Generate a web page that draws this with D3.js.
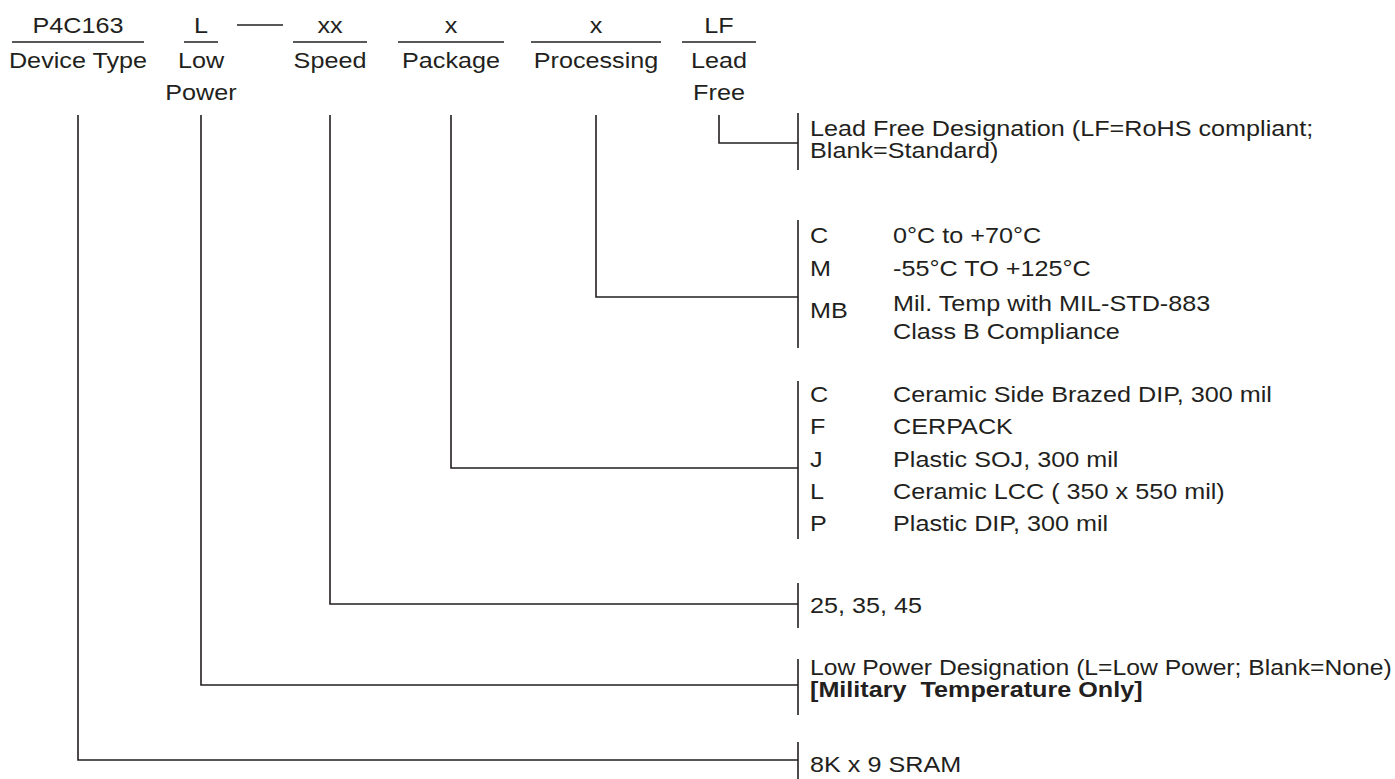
<!DOCTYPE html>
<html lang="en">
<head>
<meta charset="UTF-8">
<script src="https://cdn.jsdelivr.net/npm/d3@7"></script>
<title>P4C163 Ordering Information</title>
<style>
    body { margin: 0; background: white; }
    svg text {
        font-family: "Liberation Sans", Arial, sans-serif;
        font-size: 22.5px;
        fill: #231f20;
        white-space: pre;
    }
    .rule { stroke: #231f20; stroke-width: 1.6px; fill: none; }
</style>
</head>
<body>
<div id="chart"></div>
<script>
    // part number fields
    const codes = ["P4C163", "L", "xx", "x", "x", "LF"];
    const fieldLabels = [["Device Type"], ["Low", "Power"], ["Speed"], ["Package"], ["Processing"], ["Lead", "Free"]];

    // option text per field
    const leadFreeText = ["Lead Free Designation (LF=RoHS compliant;", "Blank=Standard)"];
    const processingCodes = ["C", "M", "MB"];
    const processingText = [["0°C to +70°C"], ["-55°C TO +125°C"], ["Mil. Temp with MIL-STD-883", "Class B Compliance"]];
    const packageCodes = ["C", "F", "J", "L", "P"];
    const packageText = ["Ceramic Side Brazed DIP, 300 mil", "CERPACK", "Plastic SOJ, 300 mil", "Ceramic LCC ( 350 x 550 mil)", "Plastic DIP, 300 mil"];
    const speedText = ["25, 35, 45"];
    const lowPowerText = ["Low Power Designation (L=Low Power; Blank=None)", "[Military  Temperature Only]"];
    const deviceText = ["8K x 9 SRAM"];

    // layout
    const W = 1395, H = 779;
    const fieldX = [78, 201, 330, 451, 596, 719];
    const underlineHalf = [66, 17, 37, 53, 65, 37];
    const sx = 1.12;
    const bracketX = 798, codeX = 810, descX = 893, dropTop = 115;

    const xField = d3.scaleOrdinal().domain(d3.range(codes.length)).range(fieldX);

    const svg = d3.select("#chart").append("svg")
        .attr("width", W)
        .attr("height", H);

    const addText = (x, y, str, anchor = "start", bold = false) => {
        const t = svg.append("text")
            .attr("text-anchor", anchor)
            .style("font-weight", bold ? "bold" : "normal")
            .text(str);
        // squeeze a bit if the line would run past the right edge
        let k = sx;
        const w = t.node().getComputedTextLength();
        if (anchor === "start" && x + w * k > W - 3) k = (W - 3 - x) / w;
        t.attr("transform", `translate(${x},${y}) scale(${k},1)`);
    };

    // header
    codes.forEach((c, i) => {
        addText(xField(i), 33, c, "middle");
        svg.append("line").attr("class", "rule")
            .attr("x1", xField(i) - underlineHalf[i]).attr("x2", xField(i) + underlineHalf[i])
            .attr("y1", 42).attr("y2", 42);
        fieldLabels[i].forEach((l, j) => addText(xField(i), 68 + j * 32, l, "middle"));
    });
    // dash between L and xx
    svg.append("line").attr("class", "rule")
        .attr("x1", 237).attr("x2", 283).attr("y1", 25).attr("y2", 25);

    // brackets: field index, top, bottom, join y, rows
    const blocks = [
        { field: 5, top: 113, bottom: 170, join: 143,
          rows: leadFreeText.map((t, i) => ({ lines: [t], y: [136 + i * 22] })) },
        { field: 4, top: 220, bottom: 348, join: 297,
          rows: processingCodes.map((c, i) => ({ code: c, codeY: [243, 276, 318][i], lines: processingText[i], y: [[243], [276], [311, 339]][i] })) },
        { field: 3, top: 381, bottom: 539, join: 468,
          rows: packageCodes.map((c, i) => ({ code: c, codeY: 402 + i * 32.3, lines: [packageText[i]], y: [402 + i * 32.3] })) },
        { field: 2, top: 583, bottom: 628, join: 604,
          rows: [{ lines: speedText, y: [613] }] },
        { field: 1, top: 659, bottom: 715, join: 685,
          rows: [{ lines: lowPowerText, y: [675, 697], bold: [false, true] }] },
        { field: 0, top: 742, bottom: 779, join: 760,
          rows: [{ lines: deviceText, y: [772] }] }
    ];

    blocks.forEach(b => {
        const x = xField(b.field);
        svg.append("path").attr("class", "rule")
            .attr("d", d3.line()([[x, dropTop], [x, b.join], [bracketX, b.join]]));
        svg.append("line").attr("class", "rule")
            .attr("x1", bracketX).attr("x2", bracketX)
            .attr("y1", b.top).attr("y2", b.bottom);
        b.rows.forEach(r => {
            if (r.code) {
                addText(codeX, r.codeY, r.code);
                r.lines.forEach((l, j) => addText(descX, r.y[j], l));
            } else {
                r.lines.forEach((l, j) => addText(codeX, r.y[j], l, "start", r.bold ? r.bold[j] : false));
            }
        });
    });
</script>
</body>
</html>
